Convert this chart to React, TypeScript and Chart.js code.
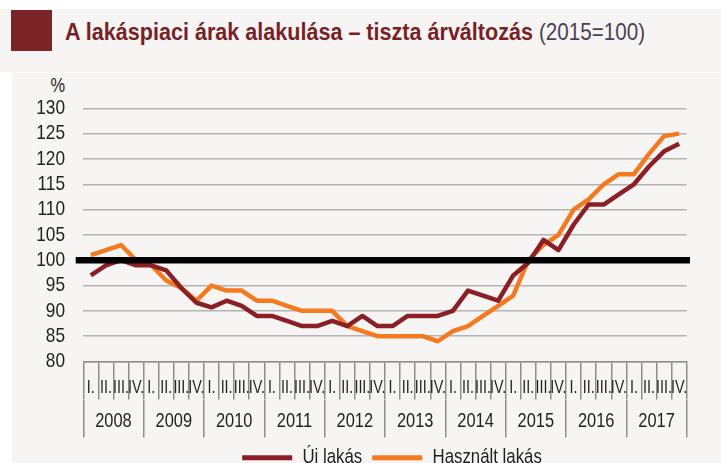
import { useEffect, useRef } from 'react';
import { Chart, registerables } from 'chart.js';

Chart.register(...registerables);

const years = ['2008', '2009', '2010', '2011', '2012', '2013', '2014', '2015', '2016', '2017'];
const quarters = ['I.', 'II.', 'III.', 'IV.'];

const newHomes = [
  97, 99, 100, 99,
  99, 98, 94.5, 91.6,
  90.7, 92, 91, 89,
  89, 88, 87, 87,
  88, 87, 89, 87,
  87, 89, 89, 89,
  90, 94, 93, 92,
  97, 99.5, 104, 102,
  107, 111, 111, 113,
  115, 118.5, 121.5, 123,
];

const usedHomes = [
  101, 102, 103, 100,
  99, 96, 94.5, 92,
  95, 94, 94, 92,
  92, 91, 90, 90,
  90, 87, 86, 85,
  85, 85, 85, 84,
  86, 87, 89, 91,
  93, 100, 103, 105,
  110, 112, 115, 117,
  117, 121, 124.5, 125,
];

const seriesNames = ['Új lakás', 'Használt lakás'];
const titleMain = 'A lakáspiaci árak alakulása – tiszta árváltozás';
const titleNote = '(2015=100)';
const unitLabel = '%';
const yMin = 80;
const yMax = 130;
const yStep = 5;
const baseline = 100;

const FONT = '"Liberation Sans", Arial, sans-serif';
const NARROW_SCALE = 0.82;
const TEXT = '#231f20';
const MAROON = '#8b1f26';
const ORANGE = '#f47a20';
const AXIS = '#8e8e8e';

const baselinePlugin = {
  id: 'baselineLine',
  afterDatasetsDraw(chart: any) {
    const { ctx, chartArea } = chart;
    const y = chart.scales.y.getPixelForValue(baseline);
    ctx.save();
    ctx.strokeStyle = '#000000';
    ctx.lineWidth = 6.5;
    ctx.beginPath();
    ctx.moveTo(chartArea.left - 7.6, y);
    ctx.lineTo(chartArea.right + 3.3, y);
    ctx.stroke();
    ctx.restore();
  },
};

function makeNarrow(ctx: any) {
  const rawFill = ctx.fillText.bind(ctx);
  const rawMeasure = ctx.measureText.bind(ctx);
  ctx.fillText = (text: string, x: number, y: number, maxWidth?: number) => {
    ctx.save();
    ctx.translate(x, y);
    ctx.scale(NARROW_SCALE, 1);
    if (maxWidth !== undefined) rawFill(text, 0, 0, maxWidth / NARROW_SCALE);
    else rawFill(text, 0, 0);
    ctx.restore();
  };
  ctx.measureText = (text: string) => {
    const m = rawMeasure(text);
    return {
      width: m.width * NARROW_SCALE,
      actualBoundingBoxAscent: m.actualBoundingBoxAscent,
      actualBoundingBoxDescent: m.actualBoundingBoxDescent,
      actualBoundingBoxLeft: m.actualBoundingBoxLeft * NARROW_SCALE,
      actualBoundingBoxRight: m.actualBoundingBoxRight * NARROW_SCALE,
      fontBoundingBoxAscent: m.fontBoundingBoxAscent,
      fontBoundingBoxDescent: m.fontBoundingBoxDescent,
    };
  };
}

function fitWidth(el: HTMLElement | null, target: number, origin: string) {
  if (!el) return;
  const w = el.getBoundingClientRect().width;
  if (w > 0) {
    el.style.transformOrigin = origin;
    el.style.transform = `scaleX(${target / w})`;
  }
}

export default function App() {
  const canvasRef = useRef<HTMLCanvasElement | null>(null);
  const titleMainRef = useRef<HTMLSpanElement | null>(null);
  const titleNoteRef = useRef<HTMLSpanElement | null>(null);

  useEffect(() => {
    document.body.style.margin = '0';
    fitWidth(titleMainRef.current, 468, 'left center');
    fitWidth(titleNoteRef.current, 106, 'left center');
    const canvas = canvasRef.current;
    if (!canvas) return;
    makeNarrow(canvas.getContext('2d'));
    const quarterLabels = years.flatMap(() => quarters);
    const chart = new Chart(canvas, {
      type: 'line',
      data: {
        labels: quarterLabels,
        datasets: [
          {
            label: seriesNames[0],
            data: newHomes,
            borderColor: MAROON,
            backgroundColor: MAROON,
            borderWidth: 4.5,
            pointRadius: 0,
            tension: 0,
            borderJoinStyle: 'round',
          },
          {
            label: seriesNames[1],
            data: usedHomes,
            borderColor: ORANGE,
            backgroundColor: ORANGE,
            borderWidth: 4.5,
            pointRadius: 0,
            tension: 0,
            borderJoinStyle: 'round',
          },
        ],
      },
      options: {
        responsive: false,
        animation: false,
        events: [],
        layout: { padding: { left: 0, right: 0, top: 35.3, bottom: 0 } },
        scales: {
          x: {
            type: 'category',
            position: 'bottom',
            weight: 0,
            offset: true,
            grid: {
              offset: true,
              drawOnChartArea: false,
              drawTicks: true,
              tickLength: 38,
              color: AXIS,
              lineWidth: 1.5,
            },
            border: { display: true, color: AXIS, width: 1.5 },
            ticks: {
              autoSkip: false,
              maxRotation: 0,
              minRotation: 0,
              padding: -22.2,
              color: TEXT,
              font: { family: FONT, size: 17.5 },
            },
            afterFit: (s: any) => {
              s.height = 38;
            },
          },
          x2: {
            type: 'category',
            position: 'bottom',
            weight: 1,
            labels: years,
            offset: true,
            grid: {
              offset: true,
              drawOnChartArea: false,
              drawTicks: true,
              tickLength: 38,
              color: AXIS,
              lineWidth: 1.5,
            },
            border: { display: false },
            ticks: {
              autoSkip: false,
              maxRotation: 0,
              minRotation: 0,
              padding: -28,
              color: TEXT,
              font: { family: FONT, size: 20 },
            },
            afterFit: (s: any) => {
              s.height = 38;
            },
          },
          y: {
            type: 'linear',
            position: 'left',
            min: yMin,
            max: yMax,
            ticks: {
              stepSize: yStep,
              autoSkip: false,
              padding: 18.3,
              color: TEXT,
              font: { family: FONT, size: 21, lineHeight: 1 },
            },
            grid: { color: '#b3b3b3', lineWidth: 1.5, drawTicks: false },
            border: { display: false },
            afterFit: (s: any) => {
              s.width = 83.3;
            },
          },
          yR: {
            type: 'linear',
            position: 'right',
            display: true,
            grid: { display: false, drawTicks: false },
            ticks: { display: false },
            border: { display: false },
            afterFit: (s: any) => {
              s.width = 97.3;
            },
          },
        },
        plugins: {
          tooltip: { enabled: false },
          legend: {
            position: 'bottom',
            labels: {
              boxWidth: 50,
              boxHeight: 5,
              padding: 10,
              color: TEXT,
              font: { family: FONT, size: 20.5 },
              generateLabels: (c: any) =>
                (Chart.defaults.plugins.legend.labels as any)
                  .generateLabels(c)
                  .map((l: any) => ({ ...l, lineWidth: 0 })),
            },
          },
        },
      },
      plugins: [baselinePlugin],
    } as any);
    return () => chart.destroy();
  }, []);

  return (
    <div
      style={{
        position: 'fixed',
        left: 0,
        top: 0,
        width: 721,
        height: 463,
        overflow: 'hidden',
        background: '#ffffff',
      }}
    >
      <div style={{ position: 'absolute', left: 0, top: 9, width: 721, height: 63, background: '#f6f5f3' }} />
      <div style={{ position: 'absolute', left: 12, top: 73, width: 709, height: 390, background: '#f6f5f3' }} />
      <div style={{ position: 'absolute', left: 11, top: 10, width: 41, height: 41, background: '#7b2427' }} />
      <span
        ref={titleMainRef}
        style={{
          position: 'absolute',
          left: 65,
          top: 19.7,
          whiteSpace: 'nowrap',
          fontFamily: FONT,
          fontWeight: 'bold',
          fontSize: 24,
          lineHeight: '24px',
          color: '#7a1f25',
        }}
      >
        {titleMain}
      </span>
      <span
        ref={titleNoteRef}
        style={{
          position: 'absolute',
          left: 539,
          top: 19.7,
          whiteSpace: 'nowrap',
          fontFamily: FONT,
          fontSize: 24,
          lineHeight: '24px',
          color: '#4b3f56',
        }}
      >
        {titleNote}
      </span>
      <div
        style={{
          position: 'absolute',
          left: 0,
          width: 65,
          top: 75,
          textAlign: 'right',
          fontFamily: FONT,
          fontSize: 20,
          lineHeight: '20px',
          color: TEXT,
          transform: `scaleX(${NARROW_SCALE})`,
          transformOrigin: 'right center',
        }}
      >
        {unitLabel}
      </div>
      <canvas
        ref={canvasRef}
        width={784}
        height={405}
        style={{ position: 'absolute', left: 0, top: 73, width: 784, height: 405 }}
      />
    </div>
  );
}
